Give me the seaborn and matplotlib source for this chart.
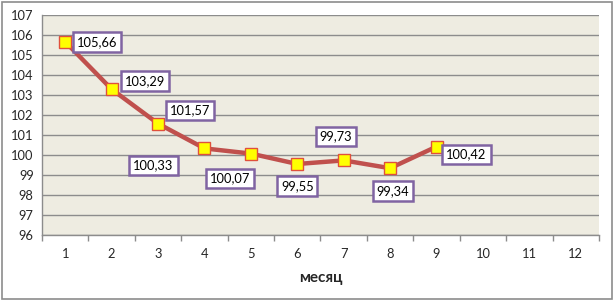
import matplotlib
matplotlib.use("Agg")
import matplotlib.pyplot as plt
import seaborn as sns
import pandas as pd
from matplotlib.patches import Rectangle

months = [1, 2, 3, 4, 5, 6, 7, 8, 9]
values = [105.66, 103.29, 101.57, 100.33, 100.07, 99.55, 99.73, 99.34, 100.42]
labels = ["105,66", "103,29", "101,57", "100,33", "100,07", "99,55", "99,73", "99,34", "100,42"]
x_ticks = list(range(1, 13))
y_ticks = list(range(96, 108))
x_title = "месяц"

# label offsets in pixels
offsets = [(32, 0), (33, 8), (32, 13), (-51, -17), (-21, -25), (0, -22), (-8, 24), (3, -23), (30, -8)]

sns.set_style("white")
plt.rcParams['font.family'] = ['Lato', 'DejaVu Sans']

df = pd.DataFrame({"month": months, "value": values})

fig = plt.figure(figsize=(6.15, 3.01), dpi=100)
ax = fig.add_axes([42/615, 1 - 235/301, (599-42)/615, (235-15)/301])
ax.set_facecolor("#EEECE1")

for y in y_ticks:
    ax.axhline(y, color="#8C8C8C", lw=1.0, zorder=1)

sns.lineplot(data=df, x="month", y="value", ax=ax, color="#C0504D", lw=3.2,
             marker="s", markersize=9, markerfacecolor="#FFFF00",
             markeredgecolor="#E0503C", markeredgewidth=1.0, zorder=3)

for xv, yv, lab, off in zip(months, values, labels, offsets):
    ax.annotate(lab, (xv, yv), xytext=off, textcoords="offset pixels",
                ha="center", va="center", fontsize=9.3, color="black",
                bbox=dict(boxstyle="square,pad=0.3", fc="white", ec="#8064A2", lw=1.8),
                zorder=5)

ax.set_xlim(0.5, 12.5)
ax.set_ylim(96, 107)
ax.set_xticks(x_ticks)
ax.set_xticklabels([str(t) for t in x_ticks], fontsize=9.3)
ax.set_xticks([t + 0.5 for t in range(0, 13)], minor=True)
ax.set_yticks(y_ticks)
ax.set_yticklabels([str(t) for t in y_ticks], fontsize=9.3)
ax.tick_params(axis="x", which="major", length=0, pad=9)
ax.tick_params(axis="x", which="minor", length=4, color="#8C8C8C", width=1, direction="out")
ax.tick_params(axis="y", which="major", length=4, color="#8C8C8C", width=1, direction="out", pad=2)
ax.xaxis.set_tick_params(bottom=True, which="minor")

for s in ["top", "right"]:
    ax.spines[s].set_visible(False)
for s in ["left", "bottom"]:
    ax.spines[s].set_color("#8C8C8C")
    ax.spines[s].set_linewidth(1)

ax.set_xlabel(x_title, fontsize=11, fontweight="bold", labelpad=8)
ax.set_ylabel("")

fig.patches.append(Rectangle((2/615, 2/301), 610/615, 297/301, transform=fig.transFigure,
                             fill=False, ec="#8C8C8C", lw=1.2))

fig.savefig("out.png", dpi=100)
